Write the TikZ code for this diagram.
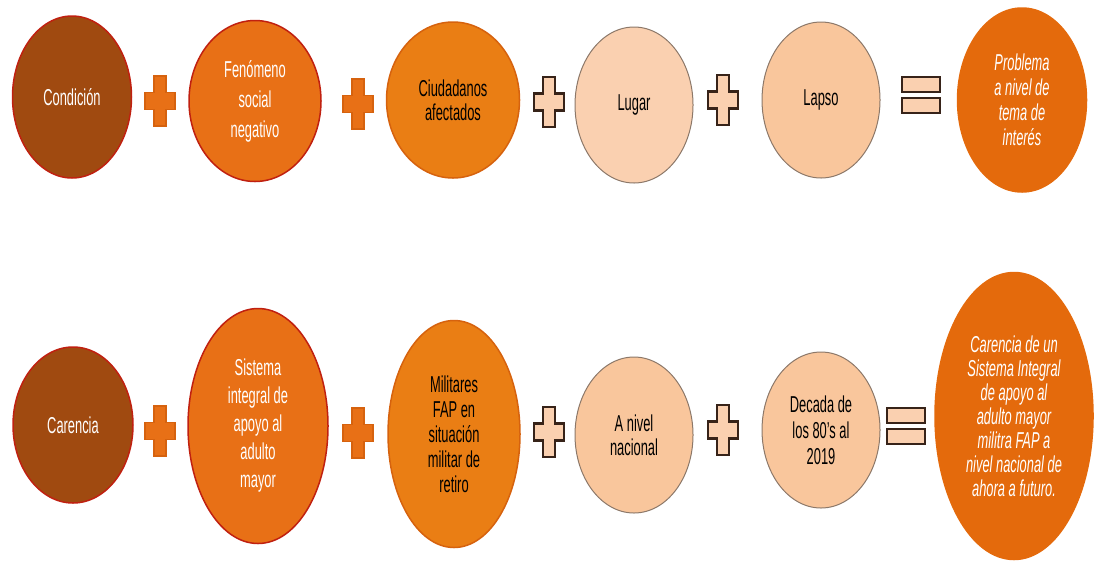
\documentclass[tikz,border=0pt]{standalone}
\usepackage{fontspec}
\setmainfont{Liberation Sans}[FakeStretch=0.56]
\usepackage{xcolor}
\usepackage{tikz}
\usetikzlibrary{shapes}

\definecolor{brownfill}{RGB}{160,74,16}
\definecolor{redline}{RGB}{192,32,16}
\definecolor{orangefill}{RGB}{232,112,22}
\definecolor{orangeline}{RGB}{214,98,14}
\definecolor{peachfill}{RGB}{250,208,176}
\definecolor{peachdark}{RGB}{249,198,156}
\definecolor{peachline}{RGB}{140,120,105}
\definecolor{resultfill}{RGB}{228,106,12}
\definecolor{plusline}{RGB}{55,35,25}

\tikzstyle{circ} = [ellipse, draw, line width=0.75pt, inner sep=0pt, align=center,
    font=\fontsize{11.5}{13}\selectfont]
\tikzstyle{cond} = [circ, fill=brownfill, draw=redline, text=white]
\tikzstyle{fen} = [circ, fill=orangefill, draw=redline, text=white]
\tikzstyle{ciud} = [circ, fill=orangefill!90!yellow, draw=orangeline, text=black]
\tikzstyle{peach} = [circ, fill=peachfill, draw=peachline, line width=0.5pt, text=black]
\tikzstyle{result} = [circ, fill=resultfill, draw=resultfill, text=white,
    font=\fontsize{11.5}{12}\selectfont\itshape]
\tikzstyle{plusorange} = [fill=orangefill, draw=orangeline, line width=0.75pt]
\tikzstyle{pluspeach} = [fill=peachfill, draw=plusline, line width=1.2pt]

\newcommand{\plusmark}[3]{%
  \draw[#3, shift={(#1,#2)}] (-6,-25) -- (6,-25) -- (6,-8.5) -- (15,-8.5) -- (15,8.5) -- (6,8.5)
    -- (6,25) -- (-6,25) -- (-6,8.5) -- (-15,8.5) -- (-15,-8.5) -- (-6,-8.5) -- cycle;}
\newcommand{\equalmark}[2]{%
  \draw[pluspeach, shift={(#1,#2)}] (-19,-18) rectangle (19,-3);
  \draw[pluspeach, shift={(#1,#2)}] (-19,3) rectangle (19,18);}

\begin{document}
\begin{tikzpicture}[x=0.5pt, y=-0.5pt]
    \useasboundingbox (0,0) rectangle (1095,563);

    % First row
    \node [cond, minimum width=59.5pt, minimum height=81pt] (Condicion) at (72,97) {Condición};
    \node [fen, minimum width=66pt, minimum height=80.5pt, font=\fontsize{11.5}{15}\selectfont] (Fenomeno) at (255,101) {Fenómeno\\social\\negativo};
    \node [ciud, minimum width=66.5pt, minimum height=78pt, font=\fontsize{11.5}{12}\selectfont] (Ciudadanos) at (453,100) {Ciudadanos\\afectados};
    \node [peach, minimum width=59pt, minimum height=78pt] (Lugar) at (634,105) {Lugar};
    \node [peach, fill=peachdark, minimum width=59pt, minimum height=78pt] (Lapso) at (821,100) {Lapso};
    \node [result, minimum width=64.5pt, minimum height=92pt, font=\fontsize{11.5}{12.5}\selectfont\itshape] (Problema) at (1022,100) {Problema\\a nivel de\\tema de\\interés};

    \plusmark{160}{101}{plusorange}
    \plusmark{358}{104}{plusorange}
    \plusmark{549}{102}{pluspeach}
    \plusmark{723}{100}{pluspeach}
    \equalmark{921}{95}

    % Second row
    \node [cond, minimum width=60pt, minimum height=78pt] (Carencia) at (73,425) {Carencia};
    \node [fen, minimum width=70pt, minimum height=117.5pt, font=\fontsize{11.5}{14}\selectfont] (Sistema) at (258,426) {Sistema\\integral de\\apoyo al\\adulto\\mayor};
    \node [ciud, minimum width=66pt, minimum height=113.5pt, font=\fontsize{11.5}{12.5}\selectfont] (Militares) at (454,434) {Militares\\FAP en\\situación\\militar de\\retiro};
    \node [peach, fill=peachdark, minimum width=59pt, minimum height=78pt, font=\fontsize{11.5}{12}\selectfont] (ANivel) at (634,435) {A nivel\\nacional};
    \node [peach, fill=peachdark, minimum width=59pt, minimum height=78pt] (Decada) at (821,430) {Decada de\\los 80’s al\\2019};
    \node [result, minimum width=79pt, minimum height=143.5pt] (CarenciaFAP) at (1014,416) {Carencia de un\\Sistema Integral\\de apoyo al\\adulto mayor\\militra FAP a\\nivel nacional de\\ahora a futuro.};

    \plusmark{160}{431}{plusorange}
    \plusmark{358}{433}{plusorange}
    \plusmark{549}{432}{pluspeach}
    \plusmark{723}{430}{pluspeach}
    \equalmark{906}{426}

\end{tikzpicture}
\end{document}
